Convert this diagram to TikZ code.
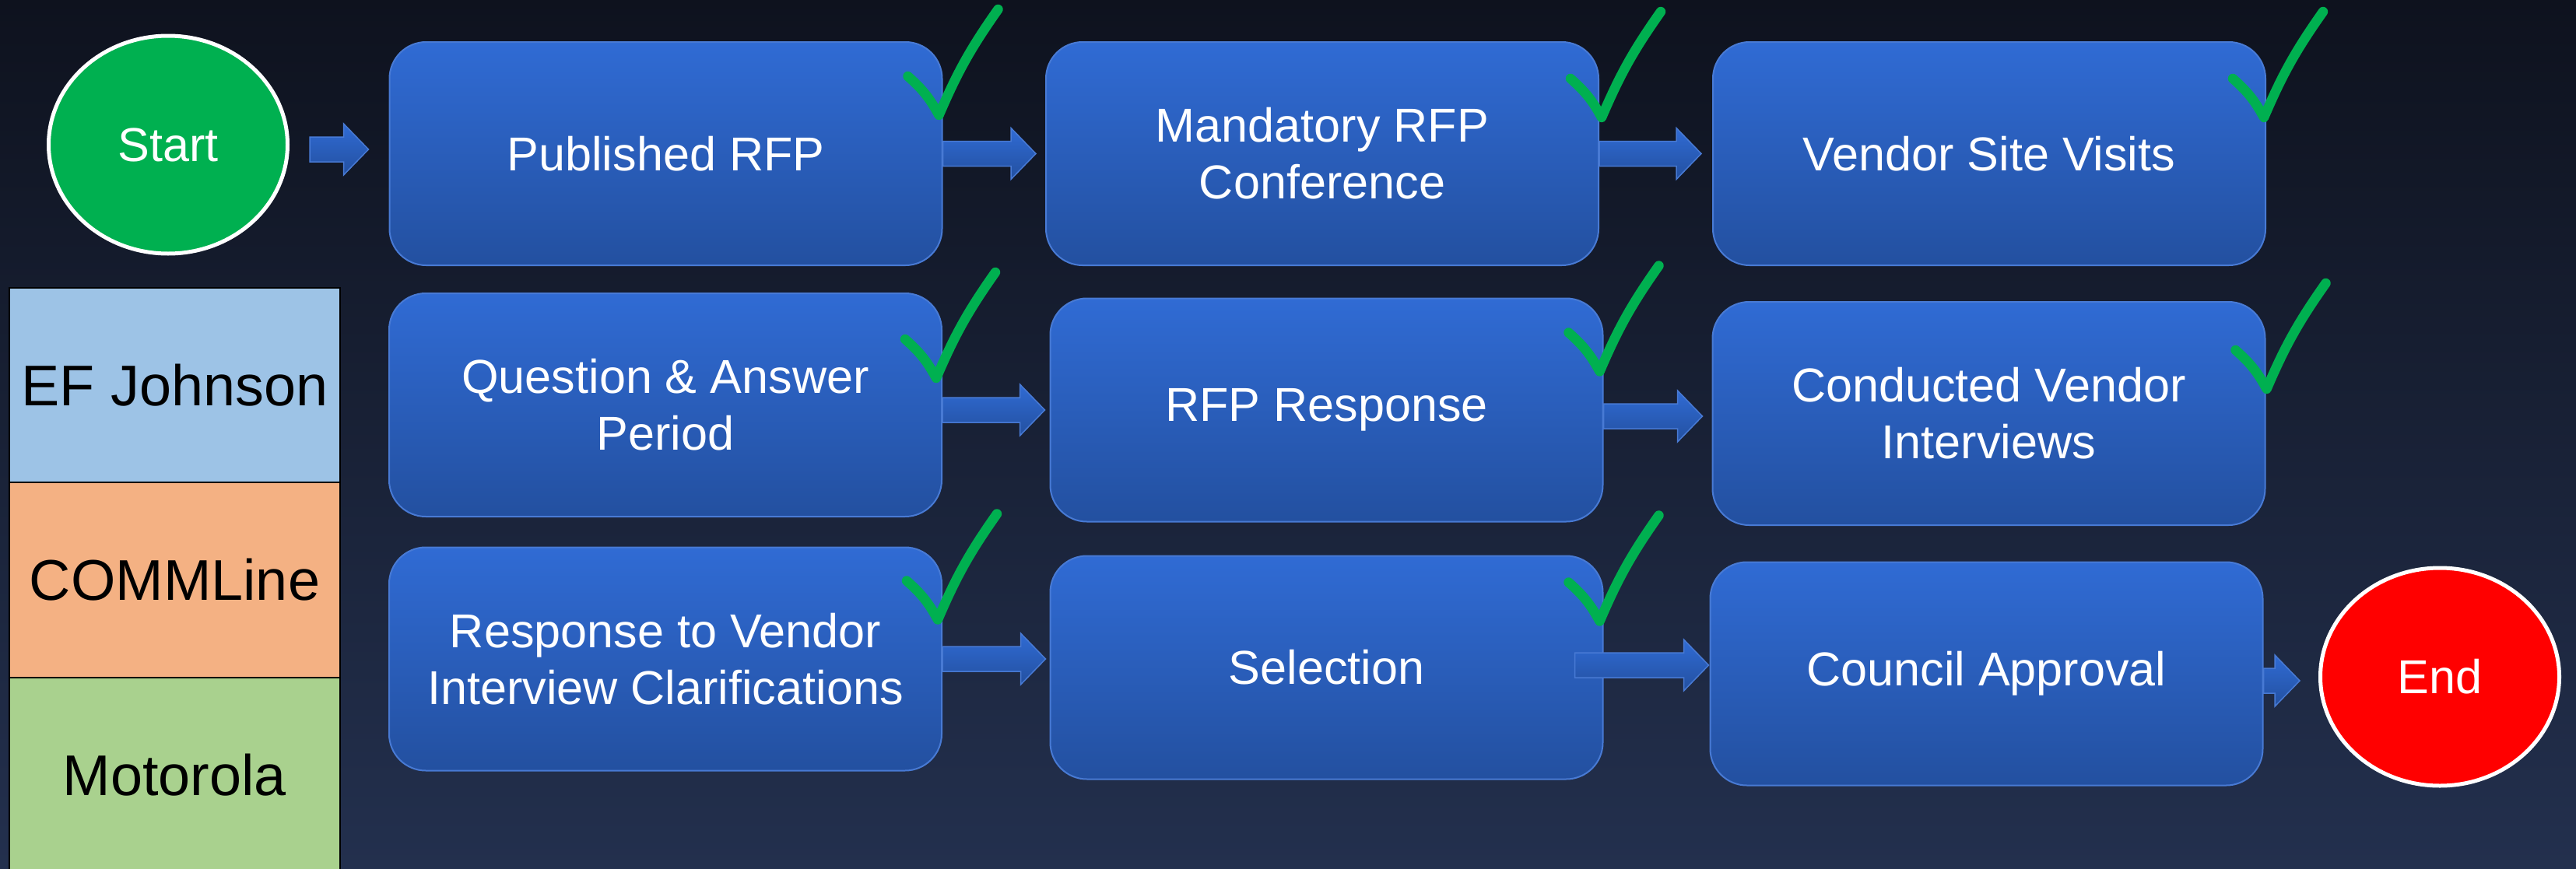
\documentclass[tikz,border=0pt]{standalone}
\usepackage{fontspec}
\setmainfont{Liberation Sans}
\usetikzlibrary{shapes.geometric}
\usetikzlibrary{calc}

\definecolor{bgtop}{RGB}{14,18,30}
\definecolor{bgbot}{RGB}{35,48,78}
\definecolor{boxtop}{RGB}{48,107,212}
\definecolor{boxbot}{RGB}{35,80,160}
\definecolor{boxline}{RGB}{72,122,212}
\definecolor{okgreen}{RGB}{0,176,80}
\definecolor{efblue}{RGB}{157,195,230}
\definecolor{commorange}{RGB}{244,177,131}
\definecolor{motogreen}{RGB}{169,209,142}

\begin{document}
\begin{tikzpicture}[
  stagebox/.style={rectangle, rounded corners=0.47cm, draw=boxline, line width=0.02cm,
    top color=boxtop, bottom color=boxbot, minimum width=7.1cm, minimum height=2.87cm,
    text=white, align=center, font=\fontsize{17.4}{20.7}\selectfont},
  terminal/.style={ellipse, draw=white, line width=0.05cm, minimum width=3.07cm,
    minimum height=2.80cm, text=white, font=\fontsize{17.4}{20.7}\selectfont},
  vendor/.style={rectangle, draw=black, line width=0.015cm, minimum width=4.25cm,
    text=black, font=\fontsize{21}{25}\selectfont},
  blockarrow/.style={draw=boxline, line width=0.015cm, top color=boxtop, bottom color=boxbot,
    to path={let \p1=(\tikztostart), \p2=(\tikztotarget) in
      (\x1,\y2+0.16cm) -- (\x2-0.32cm,\y2+0.16cm) -- (\x2-0.32cm,\y2+0.33cm) -- (\x2,\y2)
      -- (\x2-0.32cm,\y2-0.33cm) -- (\x2-0.32cm,\y2-0.16cm) -- (\x1,\y2-0.16cm) -- cycle}},
  donemark/.pic={\draw[okgreen, line width=0.125cm, line cap=round, line join=round]
    (-0.40,0.50) to[bend left=10] (0,0) to[bend left=6] (0.76,1.36);}
]
      \useasboundingbox (0,0) rectangle (33.10,-11.17);
      \shade[top color=bgtop, bottom color=bgbot] (0,0) rectangle (33.10,-11.17);

      % vendors
      \node at (2.245,-4.95) [vendor, fill=efblue, minimum height=2.50cm, name=ef] {EF Johnson};
      \node at (2.245,-7.455) [vendor, fill=commorange, minimum height=2.51cm, name=comm] {COMMLine};
      \node at (2.245,-9.96) [vendor, fill=motogreen, minimum height=2.50cm, name=moto] {Motorola};

      \node at (2.16,-1.86) [terminal, fill=okgreen, name=start] {Start};
      \node at (31.35,-8.70) [terminal, fill=red, name=stop] {End};

      % first row
      \node at (8.555,-1.975) [stagebox, name=b11] {Published RFP};
      \node at (16.99,-1.975) [stagebox, name=b12] {Mandatory RFP\\Conference};
      \node at (25.56,-1.975) [stagebox, name=b13] {Vendor Site Visits};

      % second row
      \node at (8.55,-5.205) [stagebox, name=b21] {Question \& Answer\\Period};
      \node at (17.045,-5.27) [stagebox, name=b22] {RFP Response};
      \node at (25.555,-5.315) [stagebox, name=b23] {Conducted Vendor\\Interviews};

      % third row
      \node at (8.55,-8.47) [stagebox, name=b31] {Response to Vendor\\Interview Clarifications};
      \node at (17.045,-8.58) [stagebox, name=b32] {Selection};
      \node at (25.525,-8.66) [stagebox, name=b33] {Council Approval};

      \draw [blockarrow] ([xshift=0.26cm]start.east) to ([xshift=-0.26cm, yshift=0.055cm]b11.west);
      \draw [blockarrow] (b11.east) to ([xshift=-0.12cm]b12.west);
      \draw [blockarrow] (b12.east) to ([xshift=-0.14cm]b13.west);
      \draw [blockarrow] (b21.east) to ([xshift=-0.06cm]b22.west);
      \draw [blockarrow] (b22.east) to ([xshift=-0.12cm, yshift=-0.035cm]b23.west);
      \draw [blockarrow] (b31.east) to ([xshift=-0.05cm, yshift=0.11cm]b32.west);
      \draw [blockarrow] ([xshift=-0.37cm]b32.east) to ([xshift=-0.01cm, yshift=0.11cm]b33.west);
      \draw [blockarrow] (b33.east) to ([xshift=-0.24cm, yshift=-0.05cm]stop.west);

      % ticks
      \foreach \b/\dx/\dy in {b11/-0.05/-0.95, b12/0.03/-0.98, b13/-0.03/-0.98,
        b21/-0.08/-1.10, b22/-0.05/-0.95, b23/0.01/-1.13, b31/-0.06/-0.94, b32/-0.05/-0.85}
        \pic at ([shift={(\dx,\dy)}]\b.north east) {donemark};
\end{tikzpicture}
\end{document}
